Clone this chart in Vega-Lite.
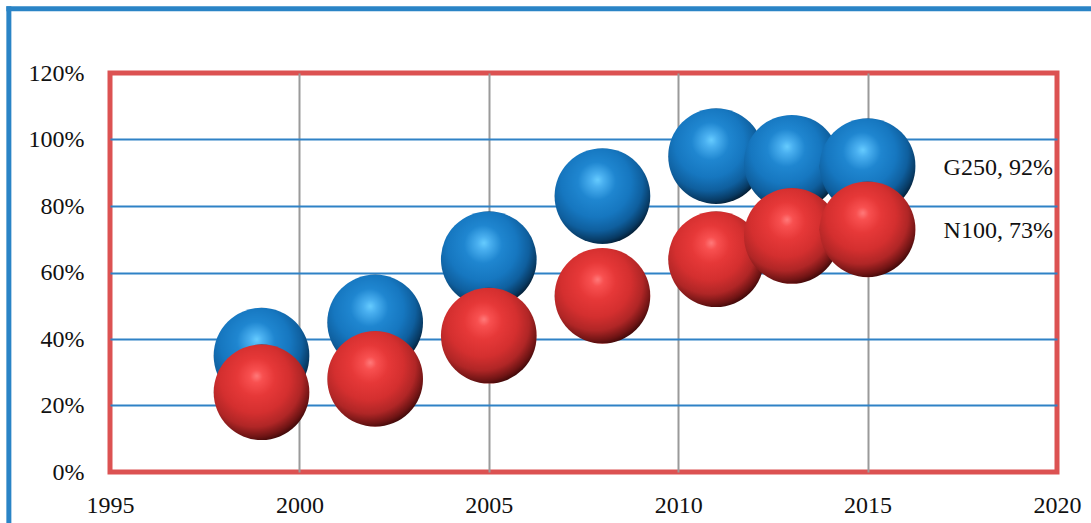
{
  "$schema": "https://vega.github.io/schema/vega-lite/v6.json",
  "autosize": "none",
  "width": 947,
  "height": 399,
  "padding": {"left": 110, "top": 73, "right": 34, "bottom": 51},
  "background": "white",
  "config": {
    "font": "Liberation Serif",
    "view": {"stroke": "#dc5252", "strokeWidth": 5},
    "axis": {
      "labelFont": "Liberation Serif",
      "labelFontSize": 24,
      "labelColor": "#111111",
      "domain": false,
      "ticks": false,
      "title": null
    }
  },
  "datasets": {
    "shares": [
      {"series": "G250", "year": 1999, "value": 0.35},
      {"series": "G250", "year": 2002, "value": 0.45},
      {"series": "G250", "year": 2005, "value": 0.64},
      {"series": "G250", "year": 2008, "value": 0.83},
      {"series": "G250", "year": 2011, "value": 0.95},
      {"series": "G250", "year": 2013, "value": 0.93},
      {"series": "G250", "year": 2015, "value": 0.92},
      {"series": "N100", "year": 1999, "value": 0.24},
      {"series": "N100", "year": 2002, "value": 0.28},
      {"series": "N100", "year": 2005, "value": 0.41},
      {"series": "N100", "year": 2008, "value": 0.53},
      {"series": "N100", "year": 2011, "value": 0.64},
      {"series": "N100", "year": 2013, "value": 0.71},
      {"series": "N100", "year": 2015, "value": 0.73}
    ]
  },
  "layer": [
    {
      "data": {"name": "shares"},
      "transform": [{"filter": "datum.series === 'G250'"}],
      "mark": {
        "type": "point",
        "shape": "circle",
        "filled": true,
        "opacity": 1,
        "size": 9161,
        "fill": {
          "gradient": "radial",
          "x1": 0.45, "y1": 0.33, "r1": 0,
          "x2": 0.42, "y2": 0.38, "r2": 0.66,
          "stops": [
            {"offset": 0, "color": "#66ccff"},
            {"offset": 0.1, "color": "#4ab0f0"},
            {"offset": 0.3, "color": "#1f86d0"},
            {"offset": 0.55, "color": "#1677c0"},
            {"offset": 0.75, "color": "#0f5f9e"},
            {"offset": 0.9, "color": "#083a63"},
            {"offset": 1, "color": "#021526"}
          ]
        }
      },
      "encoding": {
        "x": {
          "field": "year",
          "type": "quantitative",
          "scale": {"domain": [1995, 2020], "nice": false, "zero": false},
          "axis": {
            "values": [1995, 2000, 2005, 2010, 2015, 2020],
            "format": "d",
            "grid": true,
            "gridColor": {
              "condition": {"test": "datum.value === 1995 || datum.value === 2020", "value": "transparent"},
              "value": "#9a9a9a"
            },
            "gridWidth": 2,
            "labelPadding": 21,
            "labelFlush": false
          }
        },
        "y": {
          "field": "value",
          "type": "quantitative",
          "scale": {"domain": [0, 1.2], "nice": false},
          "axis": {
            "values": [0, 0.2, 0.4, 0.6, 0.8, 1.0, 1.2],
            "format": ".0%",
            "grid": true,
            "gridColor": {
              "condition": {"test": "datum.value === 0 || datum.value === 1.2", "value": "transparent"},
              "value": "#2f82c6"
            },
            "gridWidth": 2,
            "labelPadding": 26
          }
        }
      }
    },
    {
      "data": {"name": "shares"},
      "transform": [{"filter": "datum.series === 'N100'"}],
      "mark": {
        "type": "point",
        "shape": "circle",
        "filled": true,
        "opacity": 1,
        "size": 9161,
        "fill": {
          "gradient": "radial",
          "x1": 0.45, "y1": 0.33, "r1": 0,
          "x2": 0.42, "y2": 0.38, "r2": 0.66,
          "stops": [
            {"offset": 0, "color": "#ff7a7a"},
            {"offset": 0.1, "color": "#f85050"},
            {"offset": 0.3, "color": "#e63838"},
            {"offset": 0.55, "color": "#d42f2f"},
            {"offset": 0.75, "color": "#b02626"},
            {"offset": 0.9, "color": "#6e1414"},
            {"offset": 1, "color": "#300505"}
          ]
        }
      },
      "encoding": {
        "x": {"field": "year", "type": "quantitative", "scale": {"domain": [1995, 2020], "nice": false, "zero": false}},
        "y": {"field": "value", "type": "quantitative", "scale": {"domain": [0, 1.2], "nice": false}}
      }
    },
    {
      "data": {"name": "shares"},
      "transform": [
        {"filter": "datum.year === 2015"},
        {"calculate": "datum.series + ', ' + format(datum.value, '.0%')", "as": "label"}
      ],
      "mark": {
        "type": "text",
        "align": "left",
        "baseline": "middle",
        "dx": 76,
        "dy": 2,
        "font": "Liberation Serif",
        "fontSize": 24,
        "color": "#111111"
      },
      "encoding": {
        "x": {"field": "year", "type": "quantitative", "scale": {"domain": [1995, 2020], "nice": false, "zero": false}},
        "y": {"field": "value", "type": "quantitative", "scale": {"domain": [0, 1.2], "nice": false}},
        "text": {"field": "label"}
      }
    },
    {
      "data": {"values": [{"edge": "left"}]},
      "mark": {"type": "rule", "color": "#2a84c6", "strokeWidth": 5, "strokeCap": "square", "clip": false},
      "encoding": {
        "x": {"datum": 1992.33, "type": "quantitative", "scale": {"domain": [1995, 2020], "nice": false, "zero": false}},
        "y": {"datum": 1.393, "type": "quantitative", "scale": {"domain": [0, 1.2], "nice": false}},
        "y2": {"datum": -0.5}
      }
    },
    {
      "data": {"values": [{"edge": "top"}]},
      "mark": {"type": "rule", "color": "#2a84c6", "strokeWidth": 5, "strokeCap": "square", "clip": false},
      "encoding": {
        "y": {"datum": 1.393, "type": "quantitative", "scale": {"domain": [0, 1.2], "nice": false}},
        "x": {"datum": 1992.33, "type": "quantitative", "scale": {"domain": [1995, 2020], "nice": false, "zero": false}},
        "x2": {"datum": 2030}
      }
    }
  ]
}
